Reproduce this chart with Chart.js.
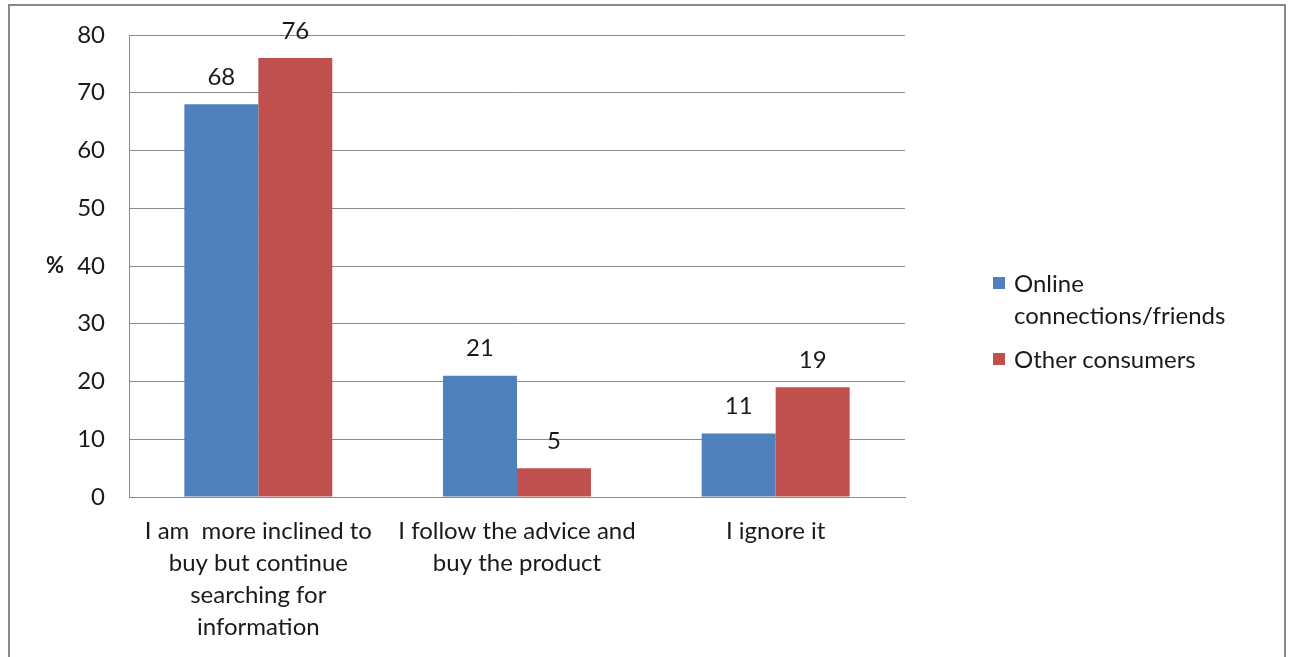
<!DOCTYPE html>
<html>
<head>
<meta charset="utf-8">
<script src="https://cdn.jsdelivr.net/npm/chart.js@4/dist/chart.umd.min.js"></script>
<style>
  html, body { margin: 0; padding: 0; background: #fff; }
  #wrap { position: relative; width: 1293px; height: 657px; overflow: hidden; }
  #frame { position: absolute; left: 8px; top: 4px; width: 1278px; height: 700px; border: 2px solid #898989; box-sizing: border-box; pointer-events: none; }
  #legend { position: absolute; left: 993px; top: 267px; font-family: Lato, sans-serif; font-size: 24px; color: #1a1a1a; }
  #legend .item { position: relative; padding-left: 21px; line-height: 32px; margin-bottom: 12px; }
  #legend .box { position: absolute; left: 0; top: 10px; width: 12px; height: 12px; }
  canvas { position: absolute; left: 0; top: 0; }
</style>
</head>
<body>
<div id="wrap">
  <canvas id="myChart" width="1293" height="657"></canvas>
  <div id="frame"></div>
  <div id="legend"></div>
</div>
<script>
var categories = [
  ["I am  more inclined to", "buy but continue", "searching for", "information"],
  ["I follow the advice and", "buy the product"],
  "I ignore it"
];
var seriesNames = ["Online connections/friends", "Other consumers"];
var legendLines = [["Online", "connections/friends"], ["Other consumers"]];
var onlineFriends = [68, 21, 11];
var otherConsumers = [76, 5, 19];
var yTicks = [0, 10, 20, 30, 40, 50, 60, 70, 80];
var colors = ['#4F81BD', '#C0504D'];

var font = "Lato, sans-serif";
var textColor = '#1a1a1a';

// html legend, the Chart.js one does not wrap lines
var legendHtml = "";
for (var i = 0; i < legendLines.length; i++) {
  legendHtml += '<div class="item"><span class="box" style="background:' + colors[i] + '"></span>' + legendLines[i].join('<br>') + '</div>';
}
document.getElementById("legend").innerHTML = legendHtml;

// value labels over the bars + the % axis title
var barLabels = {
  id: 'barLabels',
  afterDatasetsDraw: function(chart) {
    var c = chart.ctx;
    c.save();
    c.font = "24px " + font;
    c.fillStyle = textColor;
    c.textAlign = 'center';
    c.textBaseline = 'middle';
    chart.data.datasets.forEach(function(ds, di) {
      var meta = chart.getDatasetMeta(di);
      meta.data.forEach(function(bar, j) {
        c.fillText(ds.data[j], bar.x, bar.y - 27);
      });
    });
    c.font = "bold 22px " + font;
    c.fillText("%", 55, chart.scales.y.getPixelForValue(40));
    c.restore();
  }
};

var ctx = document.getElementById("myChart");
var myBarChart = new Chart(ctx, {
  type: 'bar',
  data: {
    labels: categories,
    datasets: [
      { label: seriesNames[0], data: onlineFriends, backgroundColor: colors[0] },
      { label: seriesNames[1], data: otherConsumers, backgroundColor: colors[1] }
    ]
  },
  options: {
    responsive: false,
    animation: false,
    categoryPercentage: 0.572,
    barPercentage: 1.0,
    layout: { padding: { top: 35, right: 388, left: 0, bottom: 0 } },
    plugins: {
      legend: { display: false },
      tooltip: { enabled: false }
    },
    scales: {
      x: {
        grid: { display: false, drawTicks: false },
        border: { color: '#8c8c8c', width: 1 },
        ticks: { font: { family: font, size: 24, lineHeight: 1.333 }, color: textColor, padding: 18, maxRotation: 0, autoSkip: false },
        afterFit: function(axis) { axis.height = 160; }
      },
      y: {
        min: 0,
        max: 80,
        afterBuildTicks: function(axis) {
          axis.ticks = yTicks.map(function(v) { return { value: v }; });
        },
        grid: { color: '#8c8c8c', drawTicks: false },
        border: { color: '#8c8c8c', width: 1 },
        ticks: { font: { family: font, size: 24 }, color: textColor, padding: 24 },
        afterFit: function(axis) {
          axis.width = 129;
          axis.paddingTop = 0;
          axis.paddingBottom = 0;
        }
      }
    }
  },
  plugins: [barLabels]
});
</script>
</body>
</html>
